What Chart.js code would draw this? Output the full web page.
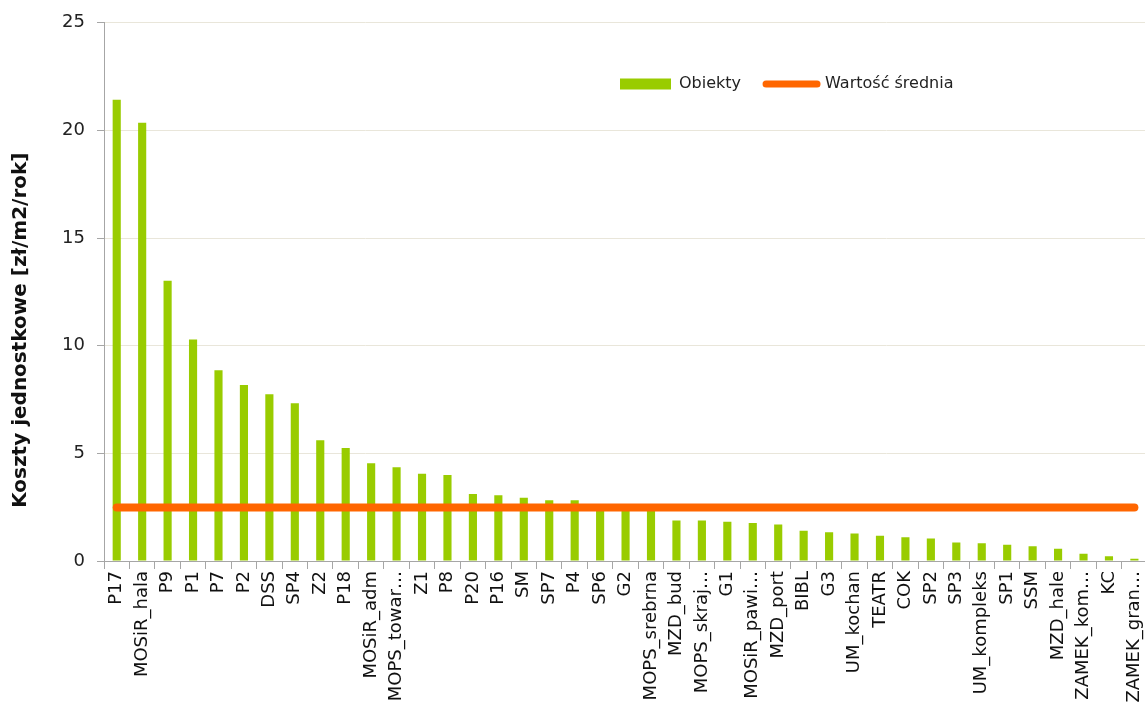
<!DOCTYPE html>
<html>
<head>
<meta charset="utf-8">
<title>Koszty jednostkowe</title>
<script src="https://cdn.jsdelivr.net/npm/chart.js@4.4.1/dist/chart.umd.min.js"></script>
<style>
  html, body { margin: 0; padding: 0; background: #fff; overflow: hidden; }
  #wrap { position: relative; width: 1158px; height: 713px; }
</style>
</head>
<body>
<div id="wrap"><canvas id="cost-chart"></canvas></div>
<script>
// dane
const categories = [
  'P17', 'MOSiR_hala', 'P9', 'P1', 'P7', 'P2', 'DSS', 'SP4', 'Z2', 'P18',
  'MOSiR_adm', 'MOPS_towar…', 'Z1', 'P8', 'P20', 'P16', 'SM', 'SP7', 'P4', 'SP6',
  'G2', 'MOPS_srebrna', 'MZD_bud', 'MOPS_skraj…', 'G1', 'MOSiR_pawi…', 'MZD_port', 'BIBL', 'G3', 'UM_kochan',
  'TEATR', 'COK', 'SP2', 'SP3', 'UM_kompleks', 'SP1', 'SSM', 'MZD_hale', 'ZAMEK_kom…', 'KC',
  'ZAMEK_gran…'
];
const costValues = [
  21.43, 20.36, 13.02, 10.29, 8.86, 8.17, 7.75, 7.33, 5.61, 5.25,
  4.54, 4.36, 4.05, 4.00, 3.11, 3.05, 2.94, 2.82, 2.82, 2.55,
  2.50, 2.45, 1.88, 1.88, 1.82, 1.76, 1.70, 1.40, 1.34, 1.28,
  1.17, 1.10, 1.05, 0.86, 0.82, 0.75, 0.69, 0.57, 0.34, 0.22,
  0.10
];
const averageValues = [
  2.48, 2.48, 2.48, 2.48, 2.48, 2.48, 2.48, 2.48, 2.48, 2.48,
  2.48, 2.48, 2.48, 2.48, 2.48, 2.48, 2.48, 2.48, 2.48, 2.48,
  2.48, 2.48, 2.48, 2.48, 2.48, 2.48, 2.48, 2.48, 2.48, 2.48,
  2.48, 2.48, 2.48, 2.48, 2.48, 2.48, 2.48, 2.48, 2.48, 2.48,
  2.48
];
const yTicks = [0, 5, 10, 15, 20, 25];

const axisGray = '#a6a6a6';

// legenda rysowana wewnatrz obszaru wykresu, nie zabiera miejsca
const legendPlacer = {
  id: 'legendPlacer',
  beforeLayout(chart) {
    const lg = chart.legend;
    if (lg && !lg._noSpace) {
      const origFit = lg.fit;
      lg.fit = function() { origFit.call(this); this.height = 0; };
      lg._noSpace = true;
    }
  },
  afterLayout(chart) {
    const lg = chart.legend;
    if (!lg) return;
    lg.left = 595;
    lg.right = 1100;
    lg.top = 51;
    lg.bottom = 120;
    lg.width = lg.right - lg.left;
    lg.height = lg.bottom - lg.top;
  }
};

window.addEventListener('DOMContentLoaded', function() {
  const el = document.getElementById('cost-chart');
  new Chart(el.getContext('2d'), {
    data: {
      labels: categories,
      datasets: [{
        type: 'bar',
        label: 'Obiekty',
        data: costValues,
        backgroundColor: '#99CC00',
        borderWidth: 0,
        categoryPercentage: 1,
        barPercentage: 0.32,
        order: 1
      }, {
        type: 'line',
        label: 'Wartość średnia',
        data: averageValues,
        borderColor: '#FF6600',
        backgroundColor: '#FF6600',
        borderWidth: 8,
        borderCapStyle: 'round',
        pointRadius: 0,
        pointHoverRadius: 0,
        fill: false,
        order: 0
      }]
    },
    options: {
      responsive: true,
      maintainAspectRatio: false,
      animation: false,
      layout: { padding: { top: 20, left: 0, right: 0, bottom: 0 } },
      plugins: {
        legend: {
          position: 'top',
          align: 'start',
          labels: {
            usePointStyle: true,
            pointStyleWidth: 51,
            boxHeight: 11,
            padding: 25,
            color: '#222',
            font: { family: 'DejaVu Sans', size: 16 },
            sort: (a, b) => a.datasetIndex - b.datasetIndex,
            generateLabels: function(chart) {
              const items = Chart.defaults.plugins.legend.labels.generateLabels(chart);
              items.forEach(function(it) {
                const ds = chart.data.datasets[it.datasetIndex];
                if (ds.type === 'line') {
                  it.pointStyle = 'line';
                  it.strokeStyle = ds.borderColor;
                  it.lineWidth = 7;
                  it.lineCap = 'round';
                } else {
                  it.pointStyle = 'rect';
                  it.fillStyle = ds.backgroundColor;
                  it.lineWidth = 0;
                }
              });
              return items;
            }
          }
        },
        tooltip: { enabled: false }
      },
      scales: {
        x: {
          offset: true,
          grid: { offset: true, drawOnChartArea: false, drawTicks: true, tickLength: 8, tickColor: axisGray },
          border: { color: axisGray, width: 1 },
          ticks: {
            autoSkip: false,
            minRotation: 90,
            maxRotation: 90,
            padding: 2,
            color: '#111',
            font: { family: 'DejaVu Sans', size: 18 }
          },
          afterFit: function(scale) { scale.height = 152; }
        },
        y: {
          min: 0,
          max: 25,
          afterBuildTicks: function(scale) {
            scale.ticks = yTicks.map(v => ({ value: v }));
          },
          grid: { color: '#e9e6da', tickColor: axisGray, tickLength: 7 },
          border: { color: axisGray, width: 1 },
          ticks: {
            padding: 12,
            color: '#222',
            font: { family: 'DejaVu Sans', size: 18 }
          },
          title: {
            display: true,
            text: 'Koszty jednostkowe [zł/m2/rok]           ',
            color: '#111',
            font: { family: 'DejaVu Sans', size: 20, weight: 'bold' },
            padding: { top: 9, bottom: 0 }
          },
          afterFit: function(scale) { scale.width = 104; }
        }
      }
    },
    plugins: [legendPlacer]
  });
});
</script>
</body>
</html>
